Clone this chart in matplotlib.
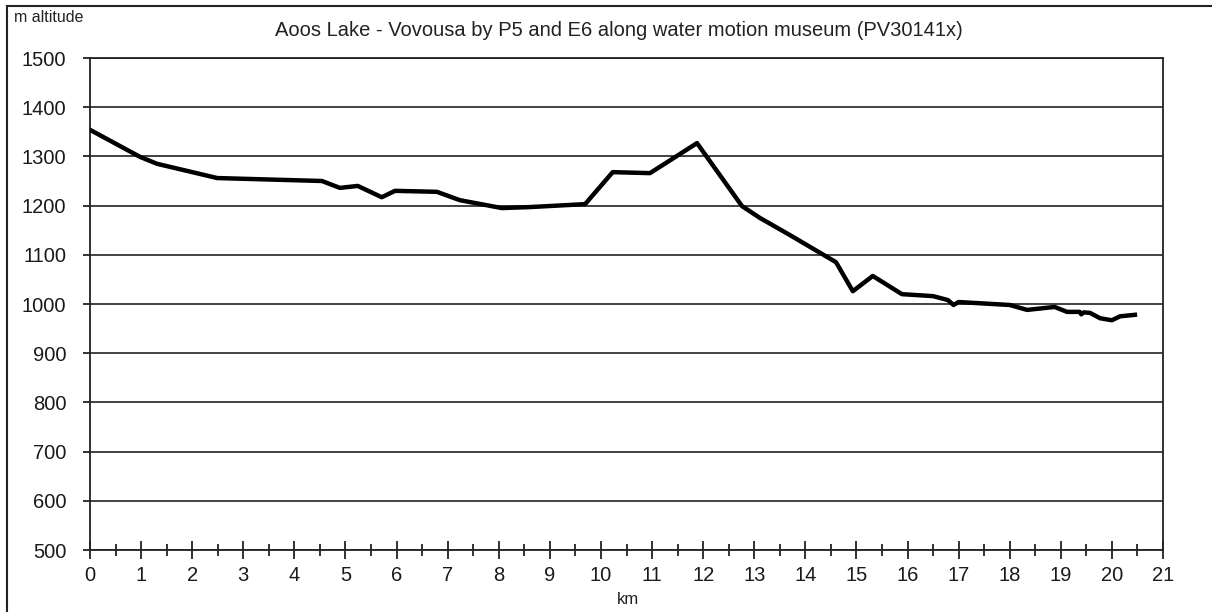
import matplotlib.pyplot as plt
from matplotlib.lines import Line2D
from matplotlib.ticker import MultipleLocator

# distance (km) and altitude (m)
km = [0.0, 0.98, 1.31, 2.49, 4.54, 4.89, 5.24, 5.71, 5.97, 6.79, 7.24,
      8.06, 8.61, 9.69, 10.23, 10.96, 11.88, 12.76, 13.11, 13.7, 14.6,
      14.93, 15.32, 15.89, 16.5, 16.79, 16.9, 17.0, 18.0, 18.34, 18.88,
      19.12, 19.37, 19.4, 19.45, 19.57, 19.77, 20.0, 20.16, 20.45]
alt = [1354, 1299, 1285, 1256, 1250, 1236, 1240, 1217, 1230, 1228, 1211,
       1195, 1197, 1203, 1268, 1266, 1327, 1199, 1175, 1140, 1085,
       1026, 1057, 1020, 1016, 1008, 998, 1004, 998, 988, 994,
       984, 984, 979, 983, 982, 971, 967, 975, 978]

W, H = 1212, 612
fig = plt.figure(figsize=(W / 100, H / 100), dpi=100)
ax = fig.add_axes([90 / W, 1 - 550 / H, (1163 - 90) / W, (550 - 58) / H])

ax.plot(km, alt, color='black', lw=3.2, solid_joinstyle='round', zorder=3)

ax.set_xlim(0, 21)
ax.set_ylim(500, 1500)
ax.xaxis.set_major_locator(MultipleLocator(1))
ax.xaxis.set_minor_locator(MultipleLocator(0.5))
ax.yaxis.set_major_locator(MultipleLocator(100))
ax.grid(axis='y', color='#333333', lw=1.3)
ax.set_axisbelow(True)

for s in ax.spines.values():
    s.set_color('#222222')
    s.set_linewidth(1.3)

ax.tick_params(axis='x', which='major', direction='inout', length=13, width=1.3,
               color='#222222', pad=5)
ax.tick_params(axis='x', which='minor', direction='inout', length=8, width=1.3,
               color='#222222')
ax.tick_params(axis='y', direction='out', length=5, width=1.3, color='#222222', pad=12)
for label in ax.get_xticklabels() + ax.get_yticklabels():
    label.set_fontsize(14.5)
    label.set_family('Liberation Sans')
    label.set_color('#1a1a1a')

fig.text(619 / W, 1 - 30 / H,
         'Aoos Lake - Vovousa by P5 and E6 along water motion museum (PV30141x)',
         ha='center', va='center', fontsize=14.5, family='Liberation Sans', color='#222222')
fig.text(14 / W, 1 - 18 / H, 'm altitude', ha='left', va='center',
         fontsize=11.5, family='Liberation Sans', color='#222222')
fig.text(628 / W, 1 - 599 / H, 'km', ha='center', va='center',
         fontsize=12, family='Liberation Sans', color='#222222')

# outer frame (left and top edges visible in the reference)
fig.add_artist(Line2D([7 / W, 7 / W], [0, 1 - 6 / H], transform=fig.transFigure,
                      color='#222222', lw=1.5))
fig.add_artist(Line2D([7 / W, 1], [1 - 6 / H, 1 - 6 / H], transform=fig.transFigure,
                      color='#222222', lw=1.5))

fig.savefig('out.png', dpi=100)
